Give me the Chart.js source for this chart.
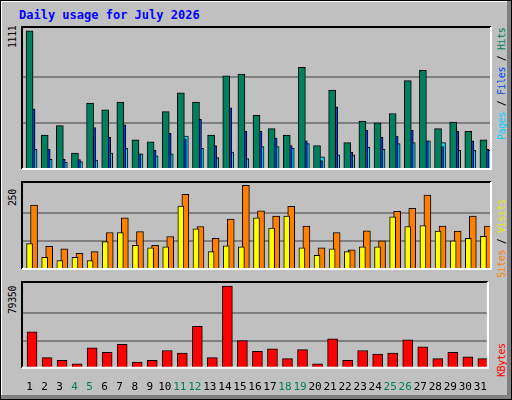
<!DOCTYPE html>
<html><head><meta charset="utf-8">
<script src="https://cdn.jsdelivr.net/npm/chart.js@4"></script>
<style>
  body{margin:0;background:#fff}
  #wrap{position:relative;width:510px;height:398px;background:#c0c0c0;border:1px solid #000;
    box-shadow:inset -4px -4px 0 #808080, inset 1px 1px 0 #fff;font-family:"DejaVu Sans Mono",monospace}
  .pan{position:absolute;left:20px}
  .title{position:absolute;left:18px;top:7px;font-weight:bold;font-size:12px;color:#0000ff}
  .rot{position:absolute;transform-origin:0 0;transform:rotate(-90deg);white-space:nowrap;font-size:10px;letter-spacing:-0.4px;line-height:12px}
</style></head><body>
<div id="wrap">
  <div class="title">Daily usage for July 2026</div>
  <div class="pan" style="top:25px;width:471px;height:152px"><canvas id="c1"></canvas></div>
  <div class="pan" style="top:180px;width:471px;height:97px"><canvas id="c2"></canvas></div>
  <div class="pan" style="top:280px;width:471px;height:118px"><canvas id="c3"></canvas></div>
  <div class="rot" style="left:6px;top:47px">1111</div>
  <div class="rot" style="left:6px;top:205px">250</div>
  <div class="rot" style="left:6px;top:313px">79350</div>
  <div class="rot" style="left:495px;top:139px"><span style="color:#00d0ff">Pages</span> / <span style="color:#0040ff">Files</span> / <span style="color:#00805c">Hits</span></div>
  <div class="rot" style="left:495px;top:277px"><span style="color:#ff8000">Sites</span> / <span style="color:#e8e800">Visits</span></div>
  <div class="rot" style="left:495px;top:376px;color:#ff0000">KBytes</div>
</div>
<script>
const days = Array.from({length:31}, (_,i)=> String(i+1));
const weekend = ['4','5','11','12','18','19','25','26'];
const hits  = [1111,272,348,128,529,476,537,234,219,461,612,537,272,748,763,431,325,272,816,189,635,212,385,370,446,710,793,325,378,302,234];
const files = [484,159,78,76,333,257,355,121,151,287,242,400,189,491,302,302,249,189,227,68,499,136,310,257,264,310,227,181,302,227,159];
const pages = [159,78,53,60,71,128,166,121,106,121,264,166,91,136,83,181,181,166,204,98,113,113,174,159,204,212,227,212,151,151,151];
const sites  = [76,35,25,35,25,82,109,71,63,66,188,120,52,69,66,153,122,158,63,41,60,52,66,66,156,127,130,113,84,92,98];
const visits = [191,68,60,47,52,109,153,112,71,97,223,127,92,149,250,174,158,187,128,63,109,57,114,84,172,181,221,128,113,158,128];
const kbytes = [35040,9850,7240,3760,19400,15060,22880,5500,7240,16800,14190,40250,9850,79350,26350,15930,18530,8980,17670,3760,28090,7240,16800,13320,14190,27220,20270,8980,15060,10710,8980];

// 3D inset frame around each plot area
const frame = {
  id:'frame',
  afterDraw(ch){
    const {ctx, chartArea:a} = ch;
    ctx.save(); ctx.lineWidth = 2;
    ctx.strokeStyle = '#000';
    ctx.beginPath(); ctx.moveTo(a.left, a.bottom); ctx.lineTo(a.left, a.top); ctx.lineTo(a.right, a.top); ctx.stroke();
    ctx.strokeStyle = '#fff';
    ctx.beginPath(); ctx.moveTo(a.right, a.top); ctx.lineTo(a.right, a.bottom); ctx.lineTo(a.left, a.bottom); ctx.stroke();
    ctx.restore();
  }
};

// webalizer style: bars of a day overlap, each one nudged a bit to the right
const nudge = {
  id:'nudge',
  afterDatasetsUpdate(ch){
    ch.data.datasets.forEach((ds,i)=>{
      ch.getDatasetMeta(i).data.forEach(el=>{ el.x += ds.dx; });
    });
  }
};

function panel(id, sets, top, showX){
  const max = Math.max(...sets.flatMap(s=>s.src));
  return new Chart(document.getElementById(id), {
    type:'bar',
    data:{ labels:days, datasets: sets.map(s=>({
      data:s.src, backgroundColor:s.color, borderColor:'#000', borderWidth:1,
      barThickness:s.w, grouped:false, dx:s.dx
    }))},
    options:{
      responsive:true, maintainAspectRatio:false, animation:false,
      layout:{padding:{top:1, right:1, left:1, bottom: showX ? 0 : 1}},
      plugins:{legend:{display:false}, tooltip:{enabled:false}},
      scales:{
        x:{ grid:{display:false}, border:{display:false},
            ticks:{ display:showX, autoSkip:false, maxRotation:0, padding:5,
              font:{family:'DejaVu Sans Mono', size:11},
              color: c => weekend.includes(days[c.index]) ? '#008050' : '#000' } },
        y:{ min:0, max:max*top, border:{display:false},
            grid:{color:'#808080', lineWidth:2, drawTicks:false},
            ticks:{display:false},
            afterBuildTicks: ax => { ax.ticks = [{value:max/3},{value:2*max/3}]; } }
      }
    },
    plugins:[frame, nudge]
  });
}

panel('c1', [{src:hits,color:'#00805c',w:7,dx:0},{src:files,color:'#0040ff',w:7,dx:2},{src:pages,color:'#00e0ff',w:7,dx:4}], 1.027, false);
panel('c2', [{src:sites,color:'#ffff00',w:6,dx:0},{src:visits,color:'#ff8000',w:7,dx:4.5}], 1.04, false);
panel('c3', [{src:kbytes,color:'#ff0000',w:10,dx:2.5}], 1.05, true);
</script>
</body></html>
